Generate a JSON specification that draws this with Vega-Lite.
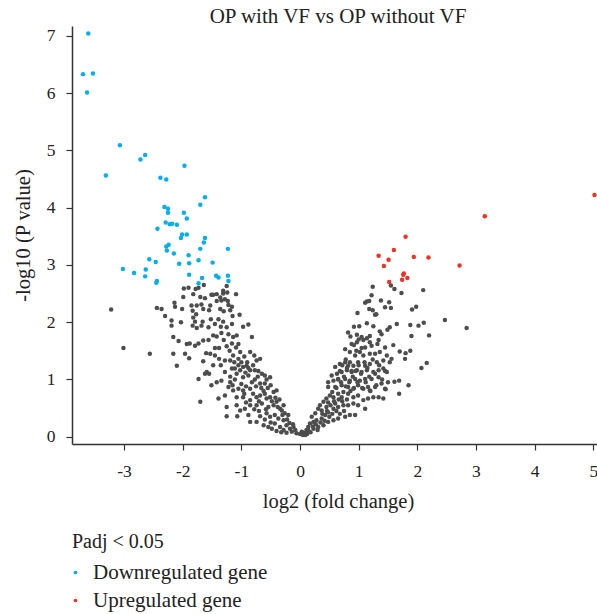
{
"$schema": "https://vega.github.io/schema/vega-lite/v6.json",
"width": 525,
"height": 418,
"autosize": "none",
"padding": {"left": 72, "top": 26, "right": 0, "bottom": 170},
"background": "white",
"title": {"text": "OP with VF vs OP without VF", "font": "Liberation Serif", "fontSize": 21, "fontWeight": "normal", "color": "#222222", "baseline": "alphabetic", "offset": 3, "dx": 3.5, "dy": 21, "frame": "group", "anchor": "middle"},
"config": {"view": {"stroke": null}, "font": "Liberation Serif"},
"layer": [
{
"data": {"values": [
{"log2FC":-3.22,"negLog10P":2.22},{"log2FC":-3.01,"negLog10P":1.55},{"log2FC":-2.56,"negLog10P":1.45},
{"log2FC":-1.99,"negLog10P":2.44},{"log2FC":-1.82,"negLog10P":2.49},{"log2FC":-1.70,"negLog10P":2.44},{"log2FC":-1.62,"negLog10P":2.42},{"log2FC":-1.51,"negLog10P":2.48},{"log2FC":-1.42,"negLog10P":2.49},{"log2FC":-1.36,"negLog10P":2.43},{"log2FC":-1.31,"negLog10P":2.50},{"log2FC":-1.24,"negLog10P":2.52},{"log2FC":-1.09,"negLog10P":2.49},
{"log2FC":-2.44,"negLog10P":2.25},{"log2FC":-2.36,"negLog10P":2.23},{"log2FC":-2.14,"negLog10P":2.34},{"log2FC":-2.13,"negLog10P":2.27},{"log2FC":-2.01,"negLog10P":2.23},
{"log2FC":-1.85,"negLog10P":2.29},{"log2FC":-1.76,"negLog10P":2.29},{"log2FC":-1.83,"negLog10P":2.20},{"log2FC":-1.77,"negLog10P":2.14},
{"log2FC":-1.68,"negLog10P":2.31},{"log2FC":-1.53,"negLog10P":2.29},{"log2FC":-1.65,"negLog10P":2.23},{"log2FC":-1.55,"negLog10P":2.21},
{"log2FC":-1.42,"negLog10P":2.37},{"log2FC":-1.34,"negLog10P":2.38},{"log2FC":-1.22,"negLog10P":2.30},{"log2FC":-1.16,"negLog10P":2.27},{"log2FC":-1.36,"negLog10P":2.23},{"log2FC":-1.30,"negLog10P":2.19},{"log2FC":-1.19,"negLog10P":2.21},
{"log2FC":-2.30,"negLog10P":2.11},{"log2FC":-2.19,"negLog10P":2.03},{"log2FC":-2.19,"negLog10P":1.94},{"log2FC":-2.03,"negLog10P":2.00},
{"log2FC":-1.82,"negLog10P":2.08},{"log2FC":-1.79,"negLog10P":2.01},{"log2FC":-1.83,"negLog10P":1.94},{"log2FC":-1.76,"negLog10P":1.90},{"log2FC":-1.66,"negLog10P":2.01},{"log2FC":-1.68,"negLog10P":1.94},
{"log2FC":-1.52,"negLog10P":2.05},{"log2FC":-1.56,"negLog10P":1.91},{"log2FC":-1.45,"negLog10P":1.97},{"log2FC":-1.39,"negLog10P":2.05},{"log2FC":-1.31,"negLog10P":2.01},{"log2FC":-1.35,"negLog10P":1.92},{"log2FC":-1.25,"negLog10P":1.91},{"log2FC":-1.15,"negLog10P":2.11},{"log2FC":-1.03,"negLog10P":2.13},{"log2FC":-1.16,"negLog10P":1.97},
{"log2FC":-0.97,"negLog10P":1.92},{"log2FC":-0.88,"negLog10P":1.96},
{"log2FC":-2.16,"negLog10P":1.74},{"log2FC":-2.07,"negLog10P":1.67},{"log2FC":-1.93,"negLog10P":1.62},{"log2FC":-1.88,"negLog10P":1.63},{"log2FC":-1.79,"negLog10P":1.59},{"log2FC":-1.73,"negLog10P":1.63},{"log2FC":-1.65,"negLog10P":1.68},{"log2FC":-1.56,"negLog10P":1.69},{"log2FC":-1.48,"negLog10P":1.77},{"log2FC":-1.42,"negLog10P":1.75},{"log2FC":-1.34,"negLog10P":1.81},{"log2FC":-1.22,"negLog10P":1.79},{"log2FC":-1.30,"negLog10P":1.69},{"log2FC":-1.14,"negLog10P":1.74},{"log2FC":-1.08,"negLog10P":1.77},{"log2FC":-1.16,"negLog10P":1.63},{"log2FC":-0.82,"negLog10P":1.74},
{"log2FC":-2.16,"negLog10P":1.45},{"log2FC":-1.96,"negLog10P":1.45},{"log2FC":-1.89,"negLog10P":1.37},{"log2FC":-2.10,"negLog10P":1.24},
{"log2FC":-1.60,"negLog10P":1.46},{"log2FC":-1.53,"negLog10P":1.45},{"log2FC":-1.45,"negLog10P":1.42},{"log2FC":-1.38,"negLog10P":1.36},{"log2FC":-1.28,"negLog10P":1.33},{"log2FC":-1.19,"negLog10P":1.33},{"log2FC":-1.14,"negLog10P":1.42},{"log2FC":-1.05,"negLog10P":1.36},{"log2FC":-1.20,"negLog10P":1.50},{"log2FC":-1.09,"negLog10P":1.56},{"log2FC":-1.02,"negLog10P":1.48},{"log2FC":-0.85,"negLog10P":1.48},{"log2FC":-0.78,"negLog10P":1.42},{"log2FC":-0.74,"negLog10P":1.33},{"log2FC":-0.68,"negLog10P":1.36},
{"log2FC":-1.73,"negLog10P":1.01},{"log2FC":-1.62,"negLog10P":1.10},{"log2FC":-1.59,"negLog10P":1.13},{"log2FC":-1.51,"negLog10P":0.90},{"log2FC":-1.42,"negLog10P":0.95},{"log2FC":-1.34,"negLog10P":0.98},{"log2FC":-1.28,"negLog10P":1.13},{"log2FC":-1.16,"negLog10P":1.19},{"log2FC":-1.19,"negLog10P":1.05},{"log2FC":-1.11,"negLog10P":1.19},{"log2FC":-1.08,"negLog10P":1.10},{"log2FC":-1.02,"negLog10P":1.16},{"log2FC":-0.97,"negLog10P":1.22},{"log2FC":-0.91,"negLog10P":1.24},{"log2FC":-0.97,"negLog10P":1.04},{"log2FC":-0.85,"negLog10P":1.16},{"log2FC":-0.77,"negLog10P":1.16},{"log2FC":-0.71,"negLog10P":1.15},{"log2FC":-0.65,"negLog10P":1.10},{"log2FC":-0.60,"negLog10P":1.07},{"log2FC":-0.57,"negLog10P":1.00},{"log2FC":-0.77,"negLog10P":1.00},{"log2FC":-0.88,"negLog10P":1.07},{"log2FC":-0.82,"negLog10P":0.95},{"log2FC":-0.68,"negLog10P":0.93},{"log2FC":-0.60,"negLog10P":0.93},{"log2FC":-0.51,"negLog10P":1.04},{"log2FC":-1.11,"negLog10P":1.00},{"log2FC":-1.19,"negLog10P":0.95},
{"log2FC":-1.70,"negLog10P":0.61},{"log2FC":-1.39,"negLog10P":0.67},{"log2FC":-1.28,"negLog10P":0.72},{"log2FC":-1.22,"negLog10P":0.87},{"log2FC":-1.14,"negLog10P":0.81},{"log2FC":-1.05,"negLog10P":0.84},{"log2FC":-0.97,"negLog10P":0.81},{"log2FC":-0.85,"negLog10P":0.84},{"log2FC":-0.80,"negLog10P":0.75},{"log2FC":-0.74,"negLog10P":0.69},{"log2FC":-0.68,"negLog10P":0.72},{"log2FC":-0.60,"negLog10P":0.75},{"log2FC":-0.57,"negLog10P":0.67},{"log2FC":-0.51,"negLog10P":0.69},{"log2FC":-0.45,"negLog10P":0.78},{"log2FC":-0.40,"negLog10P":0.81},{"log2FC":-0.85,"negLog10P":0.64},{"log2FC":-0.97,"negLog10P":0.69},{"log2FC":-1.08,"negLog10P":0.69},
{"log2FC":-1.25,"negLog10P":0.52},{"log2FC":-1.08,"negLog10P":0.55},{"log2FC":-1.02,"negLog10P":0.46},{"log2FC":-0.94,"negLog10P":0.49},{"log2FC":-0.85,"negLog10P":0.55},{"log2FC":-0.74,"negLog10P":0.55},{"log2FC":-0.65,"negLog10P":0.58},{"log2FC":-0.54,"negLog10P":0.52},{"log2FC":-0.45,"negLog10P":0.55},{"log2FC":-0.40,"negLog10P":0.61},{"log2FC":-0.34,"negLog10P":0.49},{"log2FC":-0.28,"negLog10P":0.55},{"log2FC":-0.31,"negLog10P":0.46},
{"log2FC":-1.25,"negLog10P":0.36},{"log2FC":-1.07,"negLog10P":0.36},{"log2FC":-0.88,"negLog10P":0.38},{"log2FC":-0.85,"negLog10P":0.26},{"log2FC":-0.74,"negLog10P":0.26},{"log2FC":-0.68,"negLog10P":0.36},{"log2FC":-0.60,"negLog10P":0.30},{"log2FC":-0.57,"negLog10P":0.41},{"log2FC":-0.51,"negLog10P":0.35},{"log2FC":-0.43,"negLog10P":0.38},{"log2FC":-0.37,"negLog10P":0.32},{"log2FC":-0.28,"negLog10P":0.29},{"log2FC":-0.26,"negLog10P":0.41},{"log2FC":-0.20,"negLog10P":0.38},
{"log2FC":-0.62,"negLog10P":0.20},{"log2FC":-0.54,"negLog10P":0.17},{"log2FC":-0.48,"negLog10P":0.14},{"log2FC":-0.43,"negLog10P":0.23},{"log2FC":-0.34,"negLog10P":0.17},{"log2FC":-0.28,"negLog10P":0.12},{"log2FC":-0.23,"negLog10P":0.20},{"log2FC":-0.17,"negLog10P":0.14},{"log2FC":-0.11,"negLog10P":0.17},{"log2FC":-0.06,"negLog10P":0.06},{"log2FC":0.00,"negLog10P":0.05},{"log2FC":0.06,"negLog10P":0.07},{"log2FC":0.11,"negLog10P":0.12},{"log2FC":0.14,"negLog10P":0.17},{"log2FC":0.09,"negLog10P":0.03},{"log2FC":-0.14,"negLog10P":0.09},{"log2FC":-0.23,"negLog10P":0.07},
{"log2FC":-1.98,"negLog10P":2.59},{"log2FC":-1.90,"negLog10P":2.60},{"log2FC":-1.78,"negLog10P":2.58},{"log2FC":-1.73,"negLog10P":2.60},{"log2FC":-1.64,"negLog10P":2.65},{"log2FC":-1.48,"negLog10P":2.48},{"log2FC":-1.31,"negLog10P":2.55},{"log2FC":-1.25,"negLog10P":2.63},{"log2FC":-1.28,"negLog10P":2.40},{"log2FC":-1.23,"negLog10P":2.37},
{"log2FC":-1.00,"negLog10P":1.30},{"log2FC":-0.95,"negLog10P":1.40},{"log2FC":-0.90,"negLog10P":1.30},{"log2FC":-0.88,"negLog10P":1.20},{"log2FC":-0.93,"negLog10P":1.12},{"log2FC":-1.05,"negLog10P":1.25},{"log2FC":-1.12,"negLog10P":1.30},{"log2FC":-0.80,"negLog10P":1.25},{"log2FC":-0.72,"negLog10P":1.05},{"log2FC":-0.66,"negLog10P":0.85},{"log2FC":-0.62,"negLog10P":0.80},{"log2FC":-0.55,"negLog10P":0.85},{"log2FC":-0.50,"negLog10P":0.90},{"log2FC":-0.48,"negLog10P":0.62},{"log2FC":-0.42,"negLog10P":0.68},{"log2FC":-0.38,"negLog10P":0.52},{"log2FC":-0.35,"negLog10P":0.65},{"log2FC":-0.30,"negLog10P":0.38},{"log2FC":-0.22,"negLog10P":0.30},{"log2FC":-0.18,"negLog10P":0.24},{"log2FC":-0.12,"negLog10P":0.22},{"log2FC":-0.08,"negLog10P":0.12},{"log2FC":-0.70,"negLog10P":0.45},{"log2FC":-0.78,"negLog10P":0.48},{"log2FC":-0.92,"negLog10P":0.60},{"log2FC":-1.00,"negLog10P":0.92},{"log2FC":-0.92,"negLog10P":0.88},{"log2FC":-0.75,"negLog10P":0.88},{"log2FC":-0.70,"negLog10P":0.62},{"log2FC":-0.58,"negLog10P":0.48},{"log2FC":-0.50,"negLog10P":0.25},{"log2FC":-0.40,"negLog10P":0.10},{"log2FC":-0.32,"negLog10P":0.08},{"log2FC":-0.95,"negLog10P":0.75},{"log2FC":-1.15,"negLog10P":0.90},{"log2FC":-1.35,"negLog10P":1.25},{"log2FC":-1.45,"negLog10P":1.55},{"log2FC":-1.38,"negLog10P":1.55},{"log2FC":-1.25,"negLog10P":1.58},{"log2FC":-1.05,"negLog10P":1.62},{"log2FC":-1.48,"negLog10P":1.25},{"log2FC":-1.55,"negLog10P":1.10},{"log2FC":-1.65,"negLog10P":1.32},
{"log2FC":1.24,"negLog10P":2.62},{"log2FC":1.55,"negLog10P":2.64},{"log2FC":1.61,"negLog10P":2.58},{"log2FC":1.73,"negLog10P":2.51},{"log2FC":2.10,"negLog10P":2.56},{"log2FC":1.22,"negLog10P":2.47},{"log2FC":1.14,"negLog10P":2.36},{"log2FC":1.18,"negLog10P":2.37},{"log2FC":1.11,"negLog10P":2.34},{"log2FC":1.38,"negLog10P":2.38},{"log2FC":1.52,"negLog10P":2.35},{"log2FC":1.45,"negLog10P":2.26},{"log2FC":1.55,"negLog10P":2.25},{"log2FC":1.18,"negLog10P":2.23},{"log2FC":1.24,"negLog10P":2.21},{"log2FC":1.30,"negLog10P":2.14},{"log2FC":0.98,"negLog10P":2.16},{"log2FC":1.91,"negLog10P":2.22},{"log2FC":1.98,"negLog10P":2.27},{"log2FC":2.47,"negLog10P":2.04},{"log2FC":2.84,"negLog10P":1.90},
{"log2FC":1.14,"negLog10P":1.98},{"log2FC":1.01,"negLog10P":1.93},{"log2FC":0.92,"negLog10P":1.92},{"log2FC":1.25,"negLog10P":1.93},{"log2FC":1.36,"negLog10P":1.84},{"log2FC":1.39,"negLog10P":1.79},{"log2FC":1.49,"negLog10P":1.87},{"log2FC":1.53,"negLog10P":1.91},{"log2FC":1.65,"negLog10P":1.97},{"log2FC":1.88,"negLog10P":1.95},{"log2FC":2.02,"negLog10P":1.94},{"log2FC":2.11,"negLog10P":1.99},{"log2FC":1.90,"negLog10P":1.76},{"log2FC":2.20,"negLog10P":1.77},{"log2FC":0.82,"negLog10P":1.82},{"log2FC":0.86,"negLog10P":1.75},{"log2FC":0.97,"negLog10P":1.78},{"log2FC":1.05,"negLog10P":1.74},{"log2FC":1.14,"negLog10P":1.72},{"log2FC":1.19,"negLog10P":1.76},{"log2FC":1.34,"negLog10P":1.69},{"log2FC":1.59,"negLog10P":1.60},{"log2FC":1.70,"negLog10P":1.49},{"log2FC":1.80,"negLog10P":1.46},{"log2FC":1.88,"negLog10P":1.50},{"log2FC":2.07,"negLog10P":1.20},{"log2FC":2.16,"negLog10P":1.29},{"log2FC":1.61,"negLog10P":0.96},{"log2FC":1.69,"negLog10P":0.98},{"log2FC":1.69,"negLog10P":0.75},{"log2FC":1.85,"negLog10P":0.90},{"log2FC":1.46,"negLog10P":0.83},{"log2FC":1.28,"negLog10P":2.13},
{"log2FC":0.97,"negLog10P":1.65},{"log2FC":1.08,"negLog10P":1.69},{"log2FC":1.19,"negLog10P":1.65},{"log2FC":1.11,"negLog10P":1.56},{"log2FC":1.22,"negLog10P":1.59},{"log2FC":1.32,"negLog10P":1.62},{"log2FC":0.77,"negLog10P":1.53},{"log2FC":0.85,"negLog10P":1.48},{"log2FC":0.94,"negLog10P":1.42},{"log2FC":1.02,"negLog10P":1.48},{"log2FC":1.08,"negLog10P":1.42},{"log2FC":1.19,"negLog10P":1.45},{"log2FC":1.28,"negLog10P":1.45},{"log2FC":1.36,"negLog10P":1.48},{"log2FC":1.45,"negLog10P":1.56},{"log2FC":1.48,"negLog10P":1.42},{"log2FC":1.56,"negLog10P":1.36},{"log2FC":1.53,"negLog10P":1.30},{"log2FC":1.79,"negLog10P":1.36},
{"log2FC":0.60,"negLog10P":1.22},{"log2FC":0.68,"negLog10P":1.27},{"log2FC":0.77,"negLog10P":1.30},{"log2FC":0.82,"negLog10P":1.24},{"log2FC":0.91,"negLog10P":1.24},{"log2FC":0.99,"negLog10P":1.30},{"log2FC":1.11,"negLog10P":1.24},{"log2FC":1.19,"negLog10P":1.27},{"log2FC":1.31,"negLog10P":1.30},{"log2FC":1.42,"negLog10P":1.33},
{"log2FC":0.54,"negLog10P":1.07},{"log2FC":0.63,"negLog10P":1.10},{"log2FC":0.71,"negLog10P":1.13},{"log2FC":0.80,"negLog10P":1.16},{"log2FC":0.88,"negLog10P":1.13},{"log2FC":0.97,"negLog10P":1.16},{"log2FC":1.05,"negLog10P":1.13},{"log2FC":1.14,"negLog10P":1.16},{"log2FC":1.25,"negLog10P":1.13},{"log2FC":1.34,"negLog10P":1.16},{"log2FC":1.42,"negLog10P":1.19},
{"log2FC":0.48,"negLog10P":0.95},{"log2FC":0.57,"negLog10P":0.98},{"log2FC":0.65,"negLog10P":1.01},{"log2FC":0.77,"negLog10P":1.01},{"log2FC":0.85,"negLog10P":0.98},{"log2FC":0.94,"negLog10P":1.01},{"log2FC":1.02,"negLog10P":0.98},{"log2FC":1.11,"negLog10P":1.01},{"log2FC":1.22,"negLog10P":1.01},{"log2FC":1.34,"negLog10P":1.04},{"log2FC":1.48,"negLog10P":1.13},
{"log2FC":0.48,"negLog10P":0.87},{"log2FC":0.60,"negLog10P":0.87},{"log2FC":0.71,"negLog10P":0.90},{"log2FC":0.82,"negLog10P":0.87},{"log2FC":0.91,"negLog10P":0.84},{"log2FC":0.99,"negLog10P":0.90},{"log2FC":1.08,"negLog10P":0.84},{"log2FC":1.16,"negLog10P":0.87},{"log2FC":1.28,"negLog10P":0.87},{"log2FC":1.39,"negLog10P":0.93},{"log2FC":1.45,"negLog10P":0.84},{"log2FC":1.19,"negLog10P":0.81},
{"log2FC":0.20,"negLog10P":0.35},{"log2FC":0.26,"negLog10P":0.41},{"log2FC":0.31,"negLog10P":0.49},{"log2FC":0.34,"negLog10P":0.55},{"log2FC":0.40,"negLog10P":0.61},{"log2FC":0.45,"negLog10P":0.67},{"log2FC":0.51,"negLog10P":0.72},{"log2FC":0.57,"negLog10P":0.69},{"log2FC":0.65,"negLog10P":0.75},{"log2FC":0.74,"negLog10P":0.78},{"log2FC":0.82,"negLog10P":0.75},{"log2FC":0.91,"negLog10P":0.69},{"log2FC":0.99,"negLog10P":0.72},{"log2FC":1.08,"negLog10P":0.64},{"log2FC":1.16,"negLog10P":0.67},{"log2FC":1.25,"negLog10P":0.69},{"log2FC":1.34,"negLog10P":0.69},{"log2FC":1.42,"negLog10P":0.67},
{"log2FC":0.17,"negLog10P":0.23},{"log2FC":0.23,"negLog10P":0.26},{"log2FC":0.28,"negLog10P":0.29},{"log2FC":0.37,"negLog10P":0.32},{"log2FC":0.43,"negLog10P":0.38},{"log2FC":0.48,"negLog10P":0.43},{"log2FC":0.57,"negLog10P":0.49},{"log2FC":0.65,"negLog10P":0.52},{"log2FC":0.74,"negLog10P":0.55},{"log2FC":0.82,"negLog10P":0.55},{"log2FC":0.91,"negLog10P":0.58},{"log2FC":0.99,"negLog10P":0.55},{"log2FC":1.11,"negLog10P":0.49},{"log2FC":0.94,"negLog10P":0.38},
{"log2FC":0.03,"negLog10P":0.09},{"log2FC":0.09,"negLog10P":0.06},{"log2FC":0.14,"negLog10P":0.12},{"log2FC":0.23,"negLog10P":0.14},{"log2FC":0.31,"negLog10P":0.17},{"log2FC":0.40,"negLog10P":0.20},{"log2FC":0.48,"negLog10P":0.26},{"log2FC":0.57,"negLog10P":0.29},{"log2FC":0.65,"negLog10P":0.32},{"log2FC":0.77,"negLog10P":0.35},{"log2FC":0.85,"negLog10P":0.38},{"log2FC":0.71,"negLog10P":0.69},{"log2FC":0.60,"negLog10P":0.58},{"log2FC":0.45,"negLog10P":0.52},{"log2FC":0.37,"negLog10P":0.46},
{"log2FC":0.05,"negLog10P":0.03},{"log2FC":0.12,"negLog10P":0.05},{"log2FC":0.18,"negLog10P":0.08},{"log2FC":0.22,"negLog10P":0.18},{"log2FC":0.27,"negLog10P":0.22},{"log2FC":0.30,"negLog10P":0.12},{"log2FC":0.35,"negLog10P":0.25},{"log2FC":0.38,"negLog10P":0.40},{"log2FC":0.42,"negLog10P":0.28},{"log2FC":0.46,"negLog10P":0.45},{"log2FC":0.50,"negLog10P":0.35},{"log2FC":0.52,"negLog10P":0.55},{"log2FC":0.55,"negLog10P":0.40},{"log2FC":0.58,"negLog10P":0.62},{"log2FC":0.62,"negLog10P":0.45},{"log2FC":0.66,"negLog10P":0.65},{"log2FC":0.68,"negLog10P":0.40},{"log2FC":0.72,"negLog10P":0.62},{"log2FC":0.75,"negLog10P":0.45},{"log2FC":0.78,"negLog10P":0.88},{"log2FC":0.80,"negLog10P":0.65},{"log2FC":0.84,"negLog10P":0.95},{"log2FC":0.86,"negLog10P":0.80},{"log2FC":0.90,"negLog10P":1.05},{"log2FC":0.92,"negLog10P":0.85},{"log2FC":0.95,"negLog10P":1.15},{"log2FC":0.98,"negLog10P":0.95},{"log2FC":1.00,"negLog10P":1.25},{"log2FC":1.04,"negLog10P":1.10},{"log2FC":1.06,"negLog10P":0.85},{"log2FC":1.10,"negLog10P":1.30},{"log2FC":1.12,"negLog10P":0.95},{"log2FC":1.15,"negLog10P":1.20},{"log2FC":1.18,"negLog10P":1.05},{"log2FC":1.20,"negLog10P":0.80},{"log2FC":1.24,"negLog10P":1.35},{"log2FC":1.28,"negLog10P":1.10},{"log2FC":1.30,"negLog10P":0.90},{"log2FC":1.35,"negLog10P":1.25},{"log2FC":1.40,"negLog10P":1.00},{"log2FC":1.45,"negLog10P":1.15},{"log2FC":1.50,"negLog10P":0.95},{"log2FC":0.62,"negLog10P":0.85},{"log2FC":0.55,"negLog10P":0.78},{"log2FC":0.48,"negLog10P":0.60},{"log2FC":0.70,"negLog10P":0.95},{"log2FC":0.75,"negLog10P":1.05},{"log2FC":0.68,"negLog10P":1.15},{"log2FC":0.80,"negLog10P":1.20},{"log2FC":0.85,"negLog10P":1.30},{"log2FC":0.88,"negLog10P":1.15},{"log2FC":0.65,"negLog10P":1.00},{"log2FC":0.72,"negLog10P":1.25},{"log2FC":0.78,"negLog10P":1.35},{"log2FC":0.92,"negLog10P":1.60},{"log2FC":0.88,"negLog10P":1.62},{"log2FC":1.00,"negLog10P":1.70},{"log2FC":1.05,"negLog10P":1.55},{"log2FC":0.96,"negLog10P":1.50}
]},
"mark": {"type": "circle", "size": 20, "opacity": 1, "color": "#4D4D4D", "clip": true},
"encoding": {
"x": {"field": "log2FC", "type": "quantitative", "scale": {"domain": [-3.887, 5.063], "nice": false, "zero": false}, "title": "log2 (fold change)",
"axis": {"values": [-3, -2, -1, 0, 1, 2, 3, 4, 5], "labelExpr": "'' + datum.value", "grid": false, "domainColor": "#333333", "domainWidth": 1.5, "tickColor": "#333333", "tickWidth": 1.2, "tickSize": 6, "labelFont": "Liberation Serif", "labelFontSize": 17.5, "labelColor": "#222222", "labelPadding": 12, "labelFlush": false, "labelOverlap": false, "titleFont": "Liberation Serif", "titleFontSize": 20.5, "titleFontWeight": "normal", "titleColor": "#222222", "titleX": 266, "titleY": 63, "titleBaseline": "alphabetic", "titleAlign": "center"}},
"y": {"field": "negLog10P", "type": "quantitative", "scale": {"domain": [-0.126, 7.17], "nice": false, "zero": false}, "title": "-log10 (P value)",
"axis": {"values": [0, 1, 2, 3, 4, 5, 6, 7], "labelExpr": "'' + datum.value", "grid": false, "domainColor": "#333333", "domainWidth": 1.5, "tickColor": "#333333", "tickWidth": 1.2, "tickSize": 6, "labelFont": "Liberation Serif", "labelFontSize": 17.5, "labelColor": "#222222", "labelPadding": 11, "labelFlush": false, "labelOverlap": false, "titleFont": "Liberation Serif", "titleFontSize": 20.5, "titleFontWeight": "normal", "titleColor": "#222222", "titleX": -43, "titleY": 209, "titleAngle": 270, "titleBaseline": "alphabetic", "titleAlign": "center"}}
}
},
{
"data": {"values": [
{"log2FC":-3.61,"negLog10P":7.04,"group":"Downregulated gene"},{"log2FC":-3.70,"negLog10P":6.33,"group":"Downregulated gene"},{"log2FC":-3.53,"negLog10P":6.34,"group":"Downregulated gene"},{"log2FC":-3.63,"negLog10P":6.01,"group":"Downregulated gene"},{"log2FC":-3.07,"negLog10P":5.09,"group":"Downregulated gene"},{"log2FC":-3.31,"negLog10P":4.56,"group":"Downregulated gene"},{"log2FC":-2.72,"negLog10P":4.84,"group":"Downregulated gene"},{"log2FC":-2.64,"negLog10P":4.92,"group":"Downregulated gene"},{"log2FC":-2.38,"negLog10P":4.52,"group":"Downregulated gene"},{"log2FC":-2.28,"negLog10P":4.49,"group":"Downregulated gene"},
{"log2FC":-1.97,"negLog10P":4.73,"group":"Downregulated gene"},{"log2FC":-1.62,"negLog10P":4.18,"group":"Downregulated gene"},{"log2FC":-1.70,"negLog10P":4.05,"group":"Downregulated gene"},{"log2FC":-2.31,"negLog10P":4.01,"group":"Downregulated gene"},{"log2FC":-2.25,"negLog10P":3.98,"group":"Downregulated gene"},{"log2FC":-2.25,"negLog10P":3.91,"group":"Downregulated gene"},{"log2FC":-1.98,"negLog10P":3.91,"group":"Downregulated gene"},{"log2FC":-1.93,"negLog10P":3.81,"group":"Downregulated gene"},{"log2FC":-2.29,"negLog10P":3.74,"group":"Downregulated gene"},{"log2FC":-2.22,"negLog10P":3.71,"group":"Downregulated gene"},
{"log2FC":-2.18,"negLog10P":3.72,"group":"Downregulated gene"},{"log2FC":-2.10,"negLog10P":3.70,"group":"Downregulated gene"},{"log2FC":-2.43,"negLog10P":3.63,"group":"Downregulated gene"},{"log2FC":-2.01,"negLog10P":3.53,"group":"Downregulated gene"},{"log2FC":-1.93,"negLog10P":3.53,"group":"Downregulated gene"},{"log2FC":-2.03,"negLog10P":3.47,"group":"Downregulated gene"},{"log2FC":-1.62,"negLog10P":3.47,"group":"Downregulated gene"},{"log2FC":-1.64,"negLog10P":3.39,"group":"Downregulated gene"},{"log2FC":-2.24,"negLog10P":3.35,"group":"Downregulated gene"},{"log2FC":-2.28,"negLog10P":3.32,"group":"Downregulated gene"},
{"log2FC":-2.27,"negLog10P":3.25,"group":"Downregulated gene"},{"log2FC":-1.70,"negLog10P":3.28,"group":"Downregulated gene"},{"log2FC":-1.23,"negLog10P":3.28,"group":"Downregulated gene"},{"log2FC":-2.15,"negLog10P":3.20,"group":"Downregulated gene"},{"log2FC":-1.90,"negLog10P":3.17,"group":"Downregulated gene"},{"log2FC":-2.57,"negLog10P":3.10,"group":"Downregulated gene"},{"log2FC":-2.46,"negLog10P":3.05,"group":"Downregulated gene"},{"log2FC":-2.06,"negLog10P":3.02,"group":"Downregulated gene"},{"log2FC":-1.89,"negLog10P":3.03,"group":"Downregulated gene"},{"log2FC":-1.73,"negLog10P":3.08,"group":"Downregulated gene"},
{"log2FC":-1.49,"negLog10P":3.04,"group":"Downregulated gene"},{"log2FC":-3.02,"negLog10P":2.93,"group":"Downregulated gene"},{"log2FC":-2.63,"negLog10P":2.92,"group":"Downregulated gene"},{"log2FC":-2.83,"negLog10P":2.86,"group":"Downregulated gene"},{"log2FC":-2.64,"negLog10P":2.80,"group":"Downregulated gene"},{"log2FC":-2.44,"negLog10P":2.72,"group":"Downregulated gene"},{"log2FC":-2.45,"negLog10P":2.69,"group":"Downregulated gene"},{"log2FC":-1.89,"negLog10P":2.83,"group":"Downregulated gene"},{"log2FC":-1.43,"negLog10P":2.81,"group":"Downregulated gene"},{"log2FC":-1.39,"negLog10P":2.78,"group":"Downregulated gene"},
{"log2FC":-1.23,"negLog10P":2.81,"group":"Downregulated gene"},{"log2FC":-1.67,"negLog10P":2.77,"group":"Downregulated gene"},{"log2FC":-1.22,"negLog10P":2.72,"group":"Downregulated gene"},{"log2FC":-1.73,"negLog10P":2.68,"group":"Downregulated gene"},
{"log2FC":5.02,"negLog10P":4.22,"group":"Upregulated gene"},{"log2FC":3.15,"negLog10P":3.85,"group":"Upregulated gene"},{"log2FC":1.80,"negLog10P":3.49,"group":"Upregulated gene"},{"log2FC":1.60,"negLog10P":3.26,"group":"Upregulated gene"},{"log2FC":1.34,"negLog10P":3.16,"group":"Upregulated gene"},{"log2FC":1.51,"negLog10P":3.09,"group":"Upregulated gene"},{"log2FC":1.94,"negLog10P":3.14,"group":"Upregulated gene"},{"log2FC":2.19,"negLog10P":3.13,"group":"Upregulated gene"},{"log2FC":1.43,"negLog10P":2.98,"group":"Upregulated gene"},{"log2FC":2.72,"negLog10P":2.99,"group":"Upregulated gene"},
{"log2FC":1.77,"negLog10P":2.85,"group":"Upregulated gene"},{"log2FC":1.76,"negLog10P":2.83,"group":"Upregulated gene"},{"log2FC":1.74,"negLog10P":2.74,"group":"Upregulated gene"},{"log2FC":1.83,"negLog10P":2.77,"group":"Upregulated gene"},{"log2FC":1.52,"negLog10P":2.70,"group":"Upregulated gene"}
]},
"mark": {"type": "circle", "size": 20, "opacity": 1, "clip": true},
"encoding": {
"x": {"field": "log2FC", "type": "quantitative"},
"y": {"field": "negLog10P", "type": "quantitative"},
"color": {"field": "group", "type": "nominal", "scale": {"domain": ["Downregulated gene", "Upregulated gene"], "range": ["#00AEEF", "#EE3224"]},
"legend": {"orient": "none", "legendX": 0, "legendY": 506, "title": "Padj < 0.05", "direction": "vertical", "titleFont": "Liberation Serif", "titleFontSize": 20, "titleFontWeight": "normal", "titleColor": "#222222", "titlePadding": 10, "labelFont": "Liberation Serif", "labelFontSize": 21, "labelColor": "#222222", "labelLimit": 400, "symbolType": "circle", "symbolSize": 14, "symbolStrokeWidth": 0, "symbolOpacity": 1, "symbolOffset": -7, "labelOffset": 7, "rowPadding": 6}}
}
}
]
}
